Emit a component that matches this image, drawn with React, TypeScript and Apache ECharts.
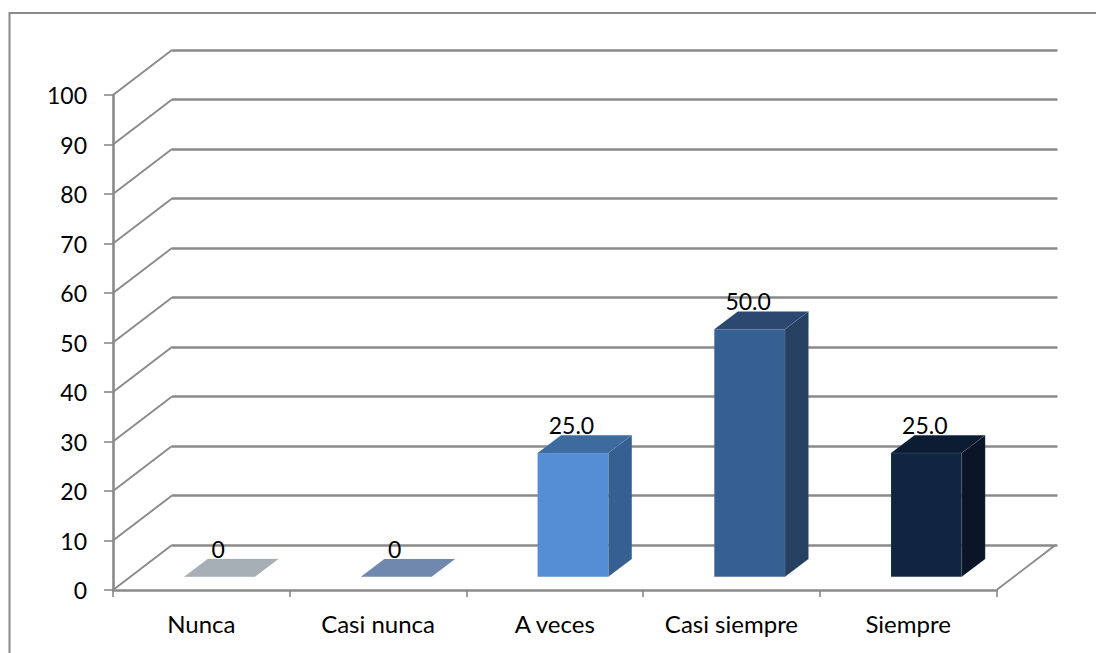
import React, { useEffect, useRef } from "react";
import * as echarts from "echarts";

const categories = ["Nunca", "Casi nunca", "A veces", "Casi siempre", "Siempre"];
const values = [0, 0, 25, 50, 25];
const valueLabels = ["0", "0", "25.0", "50.0", "25.0"];
const yTicks = [0, 10, 20, 30, 40, 50, 60, 70, 80, 90, 100];

const frontColors = ["#A7AFB6", "#7088AE", "#558ED5", "#376092", "#10253F"];
const sideColors = ["#A7AFB6", "#7088AE", "#376092", "#254061", "#0A1628"];
const topColors = ["#A7AFB6", "#7088AE", "#3D6A9F", "#2C4770", "#0C1C33"];

const FONT = "Lato, Carlito, Calibri, sans-serif";
const CATEGORY_FONT_SIZE = 24;
const TICK_FONT_SIZE = 23;
const VALUE_FONT_SIZE = 23;
const LINE = "#8A8A8A";

// Oblique projection of the chart box: how far the back wall sits from the front axes.
const WALL_DX = 59;
const WALL_DY = -45;
// Where a bar's front face stands on the floor, and how deep the bar runs.
const BAR_DX = 18.2;
const BAR_DY = -13.3;
const DEPTH_DX = 23.5;
const DEPTH_DY = -17.8;
const BAR_RATIO = 0.4;

const poly = (points: number[][], fill: string) => ({
  type: "polygon",
  shape: { points },
  style: { fill, stroke: "rgba(150,165,190,0.25)", lineWidth: 0.6 },
});

const renderBar = (params: any, api: any) => {
  const i = params.dataIndex;
  const band = api.size([1, 0])[0];
  const base = api.coord([api.value(0), 0]);
  const top = api.coord([api.value(0), api.value(1)]);
  const half = (band * BAR_RATIO) / 2;
  const xl = base[0] + BAR_DX - half;
  const xr = base[0] + BAR_DX + half;
  const yb = base[1] + BAR_DY;
  const yt = top[1] + BAR_DY;
  const children: any[] = [];
  if (api.value(1) > 0) {
    children.push(
      poly(
        [
          [xr, yb],
          [xr + DEPTH_DX, yb + DEPTH_DY],
          [xr + DEPTH_DX, yt + DEPTH_DY],
          [xr, yt],
        ],
        sideColors[i],
      ),
      poly(
        [
          [xl, yb],
          [xr, yb],
          [xr, yt],
          [xl, yt],
        ],
        frontColors[i],
      ),
    );
  }
  children.push(
    poly(
      [
        [xl, yt],
        [xr, yt],
        [xr + DEPTH_DX, yt + DEPTH_DY],
        [xl + DEPTH_DX, yt + DEPTH_DY],
      ],
      topColors[i],
    ),
  );
  children.push({
    type: "text",
    style: {
      text: valueLabels[i],
      x: base[0] + BAR_DX - 1.5,
      y: yt - 28,
      align: "center",
      verticalAlign: "middle",
      fontFamily: FONT,
      fontSize: VALUE_FONT_SIZE,
      fill: "#000000",
    },
  });
  return { type: "group", children };
};

// Side wall: one slanted line from each value on the front axis back to the wall.
const renderSideLine = (_params: any, api: any) => {
  const band = api.size([1, 0])[0];
  const p = api.coord([0, api.value(1)]);
  const x = p[0] - band / 2;
  return {
    type: "line",
    shape: { x1: x, y1: p[1], x2: x + WALL_DX, y2: p[1] + WALL_DY },
    style: { stroke: LINE, lineWidth: 1.9 },
  };
};

// Right-hand edge of the floor.
const renderFloorEdge = (_params: any, api: any) => {
  const band = api.size([1, 0])[0];
  const p = api.coord([api.value(0), 0]);
  const x = p[0] + band / 2;
  return {
    type: "line",
    shape: { x1: x, y1: p[1], x2: x + WALL_DX, y2: p[1] + WALL_DY },
    style: { stroke: LINE, lineWidth: 1.9 },
  };
};

export default function App() {
  const ref = useRef<HTMLDivElement>(null);

  useEffect(() => {
    const chart = echarts.init(ref.current!, undefined, { renderer: "svg" });
    chart.setOption({
      animation: false,
      backgroundColor: "#ffffff",
      graphic: [
        {
          type: "rect",
          silent: true,
          shape: { x: 9.5, y: 13, width: 1200, height: 800 },
          style: { fill: "none", stroke: LINE, lineWidth: 2 },
        },
      ],
      grid: [
        { left: 113, top: 95, width: 883.5, height: 495 },
        { left: 172, top: 50, width: 885.5, height: 495 },
      ],
      xAxis: [
        {
          type: "category",
          gridIndex: 0,
          data: categories,
          axisLine: { lineStyle: { color: LINE, width: 2.6 } },
          axisTick: { show: true, length: 7, lineStyle: { color: LINE, width: 1.6 } },
          axisLabel: {
            margin: 21,
            color: "#000000",
            fontFamily: FONT,
            fontSize: CATEGORY_FONT_SIZE,
          },
        },
        {
          type: "category",
          gridIndex: 1,
          data: categories,
          show: false,
        },
      ],
      yAxis: [
        {
          type: "value",
          gridIndex: 0,
          min: 0,
          max: 100,
          interval: 10,
          splitLine: { show: false },
          axisLine: { show: true, lineStyle: { color: LINE, width: 2.6 } },
          axisTick: { show: true, length: 9, lineStyle: { color: LINE, width: 1.6 } },
          axisLabel: {
            margin: 26,
            color: "#000000",
            fontFamily: FONT,
            fontSize: TICK_FONT_SIZE,
          },
        },
        {
          type: "value",
          gridIndex: 1,
          min: 0,
          max: 100,
          interval: 10,
          axisLine: { show: false },
          axisTick: { show: false },
          axisLabel: { show: false },
          splitLine: { show: true, lineStyle: { color: LINE, width: 2.6 } },
        },
      ],
      series: [
        {
          type: "custom",
          coordinateSystem: "cartesian2d",
          xAxisIndex: 0,
          yAxisIndex: 0,
          clip: false,
          silent: true,
          z: 1,
          data: yTicks.map((v) => [0, v]),
          encode: { x: 0, y: 1 },
          renderItem: renderSideLine,
        },
        {
          type: "custom",
          coordinateSystem: "cartesian2d",
          xAxisIndex: 0,
          yAxisIndex: 0,
          clip: false,
          silent: true,
          z: 1,
          data: [[categories.length - 1, 0]],
          encode: { x: 0, y: 1 },
          renderItem: renderFloorEdge,
        },
        {
          type: "custom",
          coordinateSystem: "cartesian2d",
          xAxisIndex: 0,
          yAxisIndex: 0,
          clip: false,
          silent: true,
          z: 3,
          data: values.map((v, i) => [i, v]),
          encode: { x: 0, y: 1 },
          renderItem: renderBar,
        },
      ],
    });
    return () => chart.dispose();
  }, []);

  return (
    <div
      ref={ref}
      style={{ position: "fixed", left: 0, top: 0, width: 1096, height: 653 }}
    />
  );
}
